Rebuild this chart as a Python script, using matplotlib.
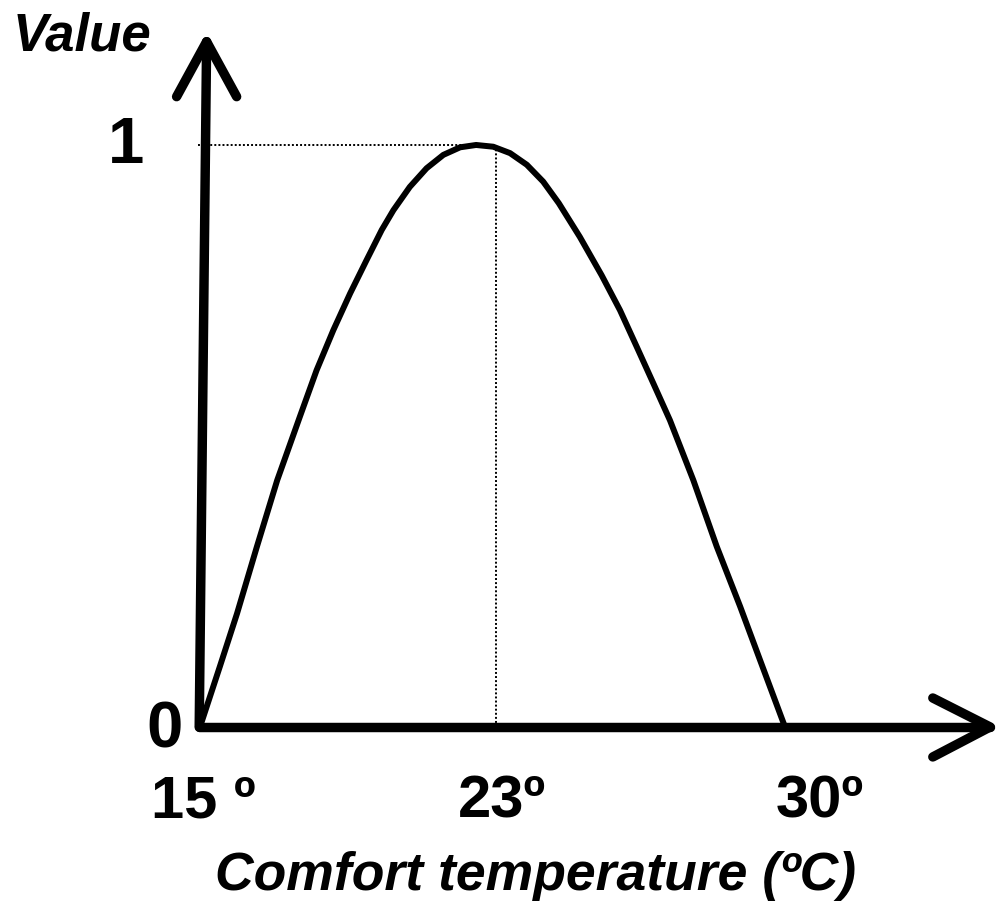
import matplotlib.pyplot as plt

plt.rcParams["font.family"] = ["Liberation Sans", "DejaVu Sans"]

# curve (temperature in degC, value 0..1)
curve_temp = [15.0, 15.51, 15.95, 16.46, 16.98, 17.56, 17.99, 18.42, 18.85, 19.27, 19.66,
              19.96, 20.38, 20.81, 21.24, 21.67, 22.08, 22.52, 22.95, 23.38, 23.80, 24.20,
              24.74, 25.30, 25.77, 26.20, 26.62, 27.05, 27.65, 28.25, 28.85, 29.36, 30.0]
curve_value = [0.0, 0.104, 0.195, 0.310, 0.424, 0.533, 0.613, 0.682, 0.745, 0.802, 0.854,
               0.888, 0.928, 0.960, 0.983, 0.996, 1.0, 0.997, 0.986, 0.966, 0.937, 0.900,
               0.842, 0.776, 0.716, 0.653, 0.591, 0.527, 0.424, 0.310, 0.207, 0.115, 0.0]

opt_temp = 22.6          # dotted guide (labelled 23º)
tick_pos = [15, opt_temp, 30]
tick_labels = ["15 º", "23º", "30º"]
ytick_pos = [0, 1]
ytick_labels = ["0", "1"]

fig = plt.figure(figsize=(10, 9.17), dpi=100)
ax = fig.add_axes([0, 0, 1, 1])
ax.set_xlim(9.872, 35.513)
ax.set_ylim(-0.3265, 1.2491)
ax.axis("off")

AX_LW = 6.8
k = dict(color="black", lw=AX_LW, solid_capstyle="round", solid_joinstyle="round")

# y axis (slightly slanted in the original) + arrow head
ax.plot([14.98, 15.17], [0, 1.1775], **k)
ax.plot([14.40, 15.17, 15.94], [1.083, 1.1775, 1.083], **k)
# x axis + arrow head
ax.plot([14.98, 35.26], [0, 0], **k)
ax.plot([33.79, 35.26, 33.79], [0.0498, 0, -0.0515], **k)

# dotted guides to the optimum
dot = dict(color="black", lw=1.4, linestyle=(0, (1, 1.1)))
ax.plot([14.95, opt_temp], [1, 1], **dot)
ax.plot([opt_temp, opt_temp], [0, 1], **dot)

ax.plot(curve_temp, curve_value, color="black", lw=4.3,
        solid_capstyle="round", solid_joinstyle="round")

lab = dict(fontsize=43, fontweight="bold", ha="center", va="baseline")
x_shift = [0.08, 0.14, 0.9]
for p, s, d in zip(tick_pos, tick_labels, x_shift):
    ax.text(p + d, -0.156, s, **lab)
ylab = dict(lab, fontsize=47)
ax.text(14.08, ytick_pos[0] - 0.036, ytick_labels[0], **ylab)
ax.text(13.1, ytick_pos[1] - 0.031, ytick_labels[1], **ylab)

ax.text(10.2, 1.163, "Value", fontsize=38, fontweight="bold", fontstyle="italic",
        ha="left", va="baseline")
ax.text(23.6, -0.28, "Comfort temperature (ºC)", fontsize=38.5, fontweight="bold",
        fontstyle="italic", ha="center", va="baseline")

fig.savefig("out.png", dpi=100)
